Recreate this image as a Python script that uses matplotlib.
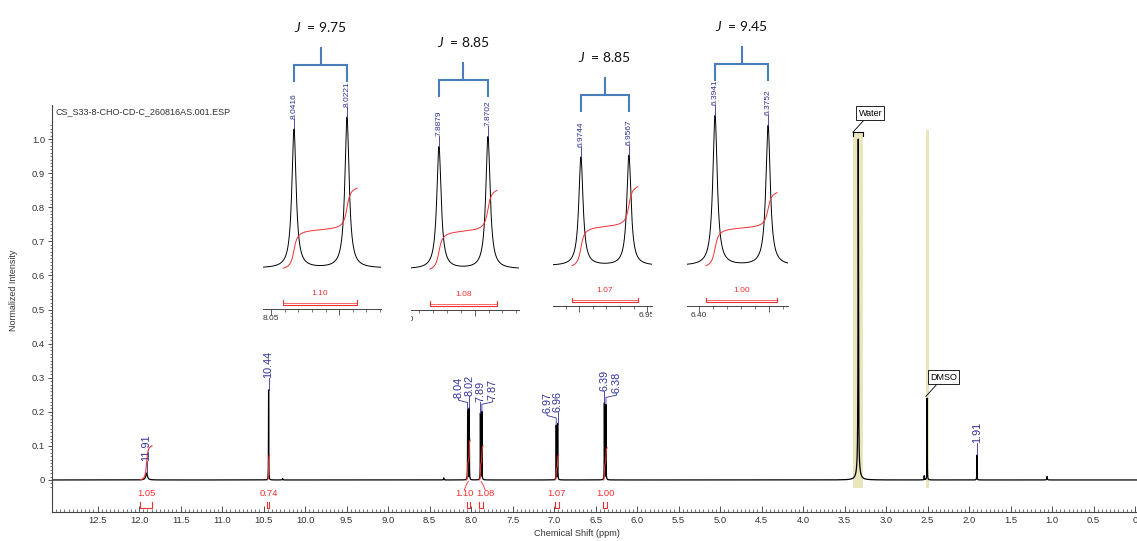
import numpy as np
import matplotlib
matplotlib.use('Agg')
import matplotlib.pyplot as plt
from matplotlib.ticker import MultipleLocator, FixedLocator, FuncFormatter
from matplotlib.transforms import Bbox, TransformedBbox, blended_transform_factory

plt.rcParams['font.family'] = ['Liberation Sans', 'DejaVu Sans']
plt.rcParams['mathtext.fontset'] = 'custom'
plt.rcParams['mathtext.it'] = 'Lato:italic'
plt.rcParams['mathtext.rm'] = 'Lato'

W, H = 1137, 541
navy = '#30309a'
red = '#f23030'
jblue = '#4a7ebb'
band = '#e9e6bd'

# ---- main spectrum (ppm, height, half width) ----
peak_ppm = [11.91, 10.44, 8.0416, 8.0221, 7.8879, 7.8702, 6.9744, 6.9567, 6.3941, 6.3752,
            3.335, 3.335, 2.505, 1.905, 8.33, 1.06, 2.54, 10.27]
peak_height = [0.02, 0.264, 0.205, 0.21, 0.195, 0.20, 0.16, 0.165, 0.225, 0.22,
               0.965, 0.035, 0.24, 0.073, 0.006, 0.01, 0.012, 0.004]
peak_hw = [0.012, 0.0015, 0.0015, 0.0015, 0.0015, 0.0015, 0.0015, 0.0015, 0.0015, 0.0015,
           0.003, 0.02, 0.0015, 0.0015, 0.003, 0.003, 0.002, 0.003]

# peak picking labels (index into peaks, horizontal leader shift in ppm)
label_text = ['11.91', '10.44', '8.04', '8.02', '7.89', '7.87', '6.97', '6.96', '6.39', '6.38', '1.91']
label_peak = [0, 1, 2, 3, 4, 5, 6, 7, 8, 9, 13]
label_dx = [0, 0, 0.11, 0, 0, -0.13, 0.11, 0, 0, -0.13, 0]

# integrals
int_region = [(11.99, 11.845), (10.455, 10.43), (8.055, 8.01), (7.905, 7.855), (6.99, 6.945), (6.405, 6.36)]
int_value = ['1.05', '0.74', '1.10', '1.08', '1.07', '1.00']
int_curve = [0.10, 0.073, 0.117, 0.10, 0.073, 0.094]
int_dx = [0, 0, 0.05, -0.05, 0, 0]

# ---- expanded doublets ----
inset_ppm = [[8.0416, 8.0221], [7.8879, 7.8702], [6.9744, 6.9567], [6.3941, 6.3752]]
inset_height = [[0.92, 1.0], [0.807, 0.873], [0.727, 0.74], [1.007, 0.94]]
inset_labels = [['8.0416', '8.0221'], ['7.8879', '7.8702'], ['6.9744', '6.9567'], ['6.3941', '6.3752']]
inset_xlim = [(8.0530, 8.0096), (7.8980, 7.8590), (6.9847, 6.9482), (6.4041, 6.3681)]
inset_int_region = [(8.0456, 8.0184), (7.8912, 7.8669), (6.9777, 6.9534), (6.3973, 6.3720)]
inset_int_height = [0.53, 0.52, 0.53, 0.49]
inset_int_label = ['1.10', '1.08', '1.07', '1.00']
inset_tick = [8.05, 7.90, 6.95, 6.40]
j_values = ['9.75', '8.85', '8.85', '9.45']
j_leg = [1.24, 1.14, 1.04, 1.247]
inset_box = [(263, 381, 309), (411, 519, 310), (553, 652, 306), (687, 788, 306)]


def lorentz(x, c, h, w):
    return h * w**2 / ((x - c)**2 + w**2)


def px_axes(fig, x0, x1, ytop, ybot):
    return fig.add_axes([x0 / W, 1 - ybot / H, (x1 - x0) / W, (ybot - ytop) / H])


fig = plt.figure(figsize=(W / 100, H / 100), dpi=100)
ax = px_axes(fig, 52, 1137, 105, 512)
ax.set_xlim(13.05, -0.024)
ax.set_ylim(-0.094, 1.10)

ppm = np.linspace(13.05, -0.024, 400000)
spec = np.zeros_like(ppm)
for c, h, w in zip(peak_ppm, peak_height, peak_hw):
    spec += lorentz(ppm, c, h, w)

# solvent bands
ax.fill_between([3.40, 3.28], -0.023, 1.02, color=band, lw=0, zorder=0)
ax.fill_between([2.52, 2.48], -0.023, 1.026, color=band, lw=0, zorder=0)
ax.plot([3.40, 3.40, 3.28, 3.28], [1.01, 1.02, 1.02, 1.01], color='k', lw=0.8)

ax.plot(ppm, spec, color='k', lw=0.9, zorder=2)

# integral curves + brackets
for (a, b), v, h, dx in zip(int_region, int_value, int_curve, int_dx):
    m = (ppm <= a) & (ppm >= b)
    cum = np.cumsum(spec[m])
    ax.plot(ppm[m], cum / cum[-1] * h, color=red, lw=0.8, zorder=3)
    ax.plot([a, a, b, b], [-0.066, -0.082, -0.082, -0.066], color=red, lw=0.8)
    xc = (a + b) / 2
    ax.text(xc + dx, -0.041, v, ha='center', va='center', fontsize=6.8, color=red)
    if dx != 0:
        ax.plot([xc + dx, xc + dx * 0.4, xc], [-0.029, -0.012, -0.004], color=red, lw=0.6)

# peak labels
for s, i, dx in zip(label_text, label_peak, label_dx):
    xp = peak_ppm[i]
    top = peak_height[i]
    xt = xp + dx
    yb = top + 0.035
    if dx == 0:
        ax.plot([xp, xp], [top, yb], color=navy, lw=0.6)
    else:
        ax.plot([xp, xp, xt, xt], [top, yb - 0.013, yb - 0.006, yb], color=navy, lw=0.6)
    ax.text(xt, yb, s, rotation=90, ha='center', va='bottom', fontsize=7.8, color=navy)

ax.annotate('Water', xy=(3.40, 1.02), xytext=(3.19, 1.076), ha='center', va='center', fontsize=6.5,
            bbox=dict(boxstyle='square,pad=0.25', fc='white', ec='k', lw=0.6),
            arrowprops=dict(arrowstyle='-', lw=0.6, color='k', shrinkA=0, shrinkB=0))
ax.annotate('DMSO', xy=(2.52, 0.245), xytext=(2.31, 0.302), ha='center', va='center', fontsize=6.5,
            bbox=dict(boxstyle='square,pad=0.25', fc='white', ec='k', lw=0.6),
            arrowprops=dict(arrowstyle='-', lw=0.6, color='k', shrinkA=0, shrinkB=0))

ax.text(0.003, 0.983, 'CS_S33-8-CHO-CD-C_260816AS.001.ESP', transform=ax.transAxes,
        ha='left', va='center', fontsize=6.5, color='#333333')

for sp in ['top', 'right']:
    ax.spines[sp].set_visible(False)
for sp in ['left', 'bottom']:
    ax.spines[sp].set_linewidth(0.8)
    ax.spines[sp].set_color('#444444')

ax.xaxis.set_major_locator(FixedLocator(np.arange(0, 12.51, 0.5)))
ax.xaxis.set_minor_locator(MultipleLocator(0.05))
ax.xaxis.set_major_formatter(FuncFormatter(lambda v, _: '0' if abs(v) < 1e-9 else f'{v:.1f}'))
ax.yaxis.set_major_locator(FixedLocator(np.round(np.arange(0, 1.01, 0.1), 2)))
ax.yaxis.set_minor_locator(FixedLocator(np.round(np.arange(-0.02, 1.045, 0.01), 2)))
ax.yaxis.set_major_formatter(FuncFormatter(lambda v, _: '0' if abs(v) < 1e-9 else f'{v:.1f}'))
ax.tick_params(axis='x', which='major', direction='in', length=4, width=0.6, labelsize=6.8, pad=3, colors='#333333')
ax.tick_params(axis='x', which='minor', direction='in', length=2.2, width=0.5, colors='#444444')
ax.tick_params(axis='y', which='major', direction='out', length=3, width=0.6, labelsize=6.8, pad=2, colors='#333333')
ax.tick_params(axis='y', which='minor', direction='out', length=1.6, width=0.5, colors='#444444')

ax.set_xlabel('Chemical Shift (ppm)', fontsize=6.6, color='#333333')
ax.xaxis.set_label_coords((577 - 52) / 1085, (512 - 529) / 407)
ax.set_ylabel('Normalized Intensity', fontsize=6.4, color='#333333')
ax.yaxis.set_label_coords((18 - 52) / 1085, (512 - 290) / 407)

# ---- insets ----
for k in range(4):
    x0, x1, yb = inset_box[k]
    ia = px_axes(fig, x0, x1, 60, yb)
    ia.set_facecolor('none')
    xl, xr = inset_xlim[k]
    ia.set_xlim(xl, xr)
    ia.set_ylim(-0.27, 1.38)
    xx = np.linspace(xl, xr, 3000)
    yy = np.zeros_like(xx)
    for c, h in zip(inset_ppm[k], inset_height[k]):
        yy += lorentz(xx, c, h, 0.00095)
    ia.plot(xx, yy, color='k', lw=0.7)
    a, b = inset_int_region[k]
    m = (xx <= a) & (xx >= b)
    cum = np.cumsum(yy[m])
    ia.plot(xx[m], cum / cum[-1] * inset_int_height[k], color=red, lw=0.7)
    ia.plot([a, a, b, b], [-0.213, -0.245, -0.245, -0.213], color=red, lw=0.8)
    ia.plot([a, b], [-0.232, -0.232], color=red, lw=0.5)
    ia.text((a + b) / 2, -0.167, inset_int_label[k], ha='center', va='center', fontsize=6, color=red)

    for c, h, s in zip(inset_ppm[k], inset_height[k], inset_labels[k]):
        ia.plot([c, c], [h, h + 0.07], color=navy, lw=0.6, clip_on=False)
        ia.text(c, h + 0.07, s, rotation=90, ha='center', va='bottom', fontsize=6, color=navy, clip_on=False)

    # coupling bracket
    p1, p2 = inset_ppm[k]
    leg = j_leg[k]
    bar = leg + 0.107
    stem = bar + 0.113
    ia.plot([p1, p1, p2, p2], [leg, bar, bar, leg], color=jblue, lw=1.5, clip_on=False, solid_joinstyle='miter')
    ia.plot([(p1 + p2) / 2] * 2, [bar, stem], color=jblue, lw=1.5, clip_on=False)
    ia.text((p1 + p2) / 2, stem + 0.14, '$J$  = ' + j_values[k], ha='center', va='center',
            fontsize=10, family='Lato', color='#111111', clip_on=False)

    for sp in ['top', 'right', 'left']:
        ia.spines[sp].set_visible(False)
    ia.spines['bottom'].set_linewidth(0.7)
    ia.spines['bottom'].set_color('#444444')
    ia.set_yticks([])
    ia.xaxis.set_major_locator(MultipleLocator(0.025))
    ia.xaxis.set_minor_locator(MultipleLocator(0.005))
    ia.tick_params(axis='x', which='major', direction='out', length=4, width=0.6, labelbottom=False, colors='#444444')
    ia.tick_params(axis='x', which='minor', direction='out', length=2.5, width=0.5, colors='#444444')
    tr = blended_transform_factory(ia.transData, ia.transAxes)
    t = ia.text(inset_tick[k], -0.025, f'{inset_tick[k]:.2f}', transform=tr, ha='center', va='top',
                fontsize=6, color='#333333')
    t.set_clip_box(TransformedBbox(Bbox([[0, -0.5], [1, 1.5]]), ia.transAxes))
    t.set_clip_on(True)

fig.savefig('out.png', dpi=100)
